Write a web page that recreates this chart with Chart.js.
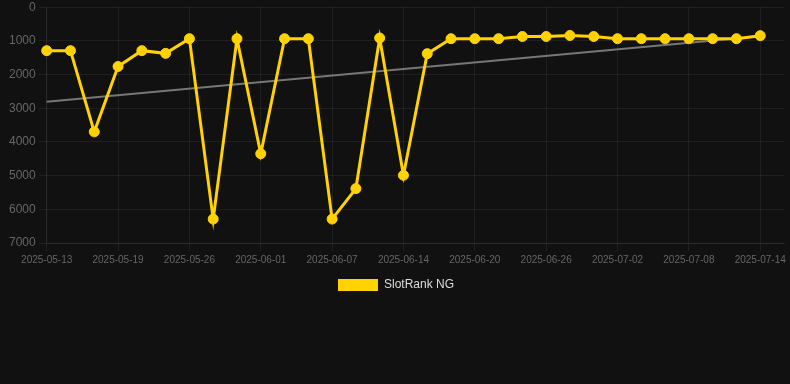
<!DOCTYPE html>
<html>
<head>
<meta charset="utf-8">
<script src="https://cdn.jsdelivr.net/npm/chart.js@4/dist/chart.umd.min.js"></script>
<style>
  html, body { margin: 0; padding: 0; background: #111111; }
  #wrap { position: relative; width: 790px; height: 301px; }
</style>
</head>
<body>
<div id="wrap"><canvas id="rankChart"></canvas></div>
<script>
// Dates (one every ~2 days); only every third one is labelled on the axis
const dates = [
  '2025-05-13', '2025-05-15', '2025-05-17', '2025-05-19', '2025-05-21', '2025-05-23',
  '2025-05-26', '2025-05-28', '2025-05-30', '2025-06-01', '2025-06-03', '2025-06-05',
  '2025-06-07', '2025-06-09', '2025-06-11', '2025-06-14', '2025-06-16', '2025-06-18',
  '2025-06-20', '2025-06-22', '2025-06-24', '2025-06-26', '2025-06-28', '2025-06-30',
  '2025-07-02', '2025-07-04', '2025-07-06', '2025-07-08', '2025-07-10', '2025-07-12',
  '2025-07-14', '2025-07-16'
];

// SlotRank NG position (lower is better, axis reversed)
const ranks = [
  1290, 1290, 3700, 1760, 1290, 1370, 935, 6290, 935, 4350,
  935, 935, 6290, 5385, 915, 4990, 1380, 935, 935, 935,
  870, 870, 840, 870, 935, 935, 935, 935, 935, 935, 845
];

// trend line end points
const trendStart = 2810;
const trendEnd = 860;

const yTicks = [0, 1000, 2000, 3000, 4000, 5000, 6000, 7000];

const GOLD = '#ffd200';
const GRID = 'rgba(255,255,255,0.06)';
const TICK = '#666666';

const trend = ranks.map((v, i) => {
  if (i === 0) return trendStart;
  if (i === ranks.length - 1) return trendEnd;
  return null;
});

Chart.defaults.font.family = 'Arial, "Liberation Sans", sans-serif';

const ctx = document.getElementById('rankChart').getContext('2d');

new Chart(ctx, {
  type: 'line',
  data: {
    labels: dates,
    datasets: [
      {
        label: 'SlotRank NG',
        data: ranks,
        borderColor: GOLD,
        backgroundColor: GOLD,
        borderWidth: 3,
        pointRadius: 5,
        pointBackgroundColor: GOLD,
        pointBorderColor: GOLD,
        pointBorderWidth: 1,
        tension: 0,
        fill: false,
      },
      {
        label: 'Trend',
        data: trend,
        borderColor: '#777777',
        borderWidth: 2,
        pointRadius: 0,
        spanGaps: true,
        fill: false,
      },
    ],
  },
  options: {
    responsive: true,
    maintainAspectRatio: false,
    animation: false,
    layout: { padding: { left: 6, right: 4, top: 0, bottom: 0 } },
    plugins: {
      legend: {
        position: 'bottom',
        labels: {
          color: '#dddddd',
          font: { size: 12 },
          boxWidth: 40,
          boxHeight: 12,
          filter: item => item.datasetIndex === 0,
          generateLabels: chart => {
            const items = Chart.defaults.plugins.legend.labels.generateLabels(chart);
            items.forEach(it => { it.lineWidth = 0; });
            return items;
          },
        },
      },
      tooltip: { enabled: false },
    },
    scales: {
      x: {
        grid: {
          color: c => (c.index % 3 === 0 ? GRID : 'transparent'),
        },
        border: { color: GRID },
        ticks: {
          color: TICK,
          font: { size: 10 },
          autoSkip: false,
          maxRotation: 0,
          callback: function(value, index) {
            return index % 3 === 0 ? this.getLabelForValue(value) : '';
          },
        },
      },
      y: {
        reverse: true,
        min: yTicks[0],
        max: yTicks[yTicks.length - 1],
        grid: { color: GRID },
        border: { color: GRID },
        ticks: {
          color: TICK,
          font: { size: 12, lineHeight: 0.7 },
          stepSize: 1000,
          callback: v => String(v),
        },
      },
    },
  },
});
</script>
</body>
</html>
